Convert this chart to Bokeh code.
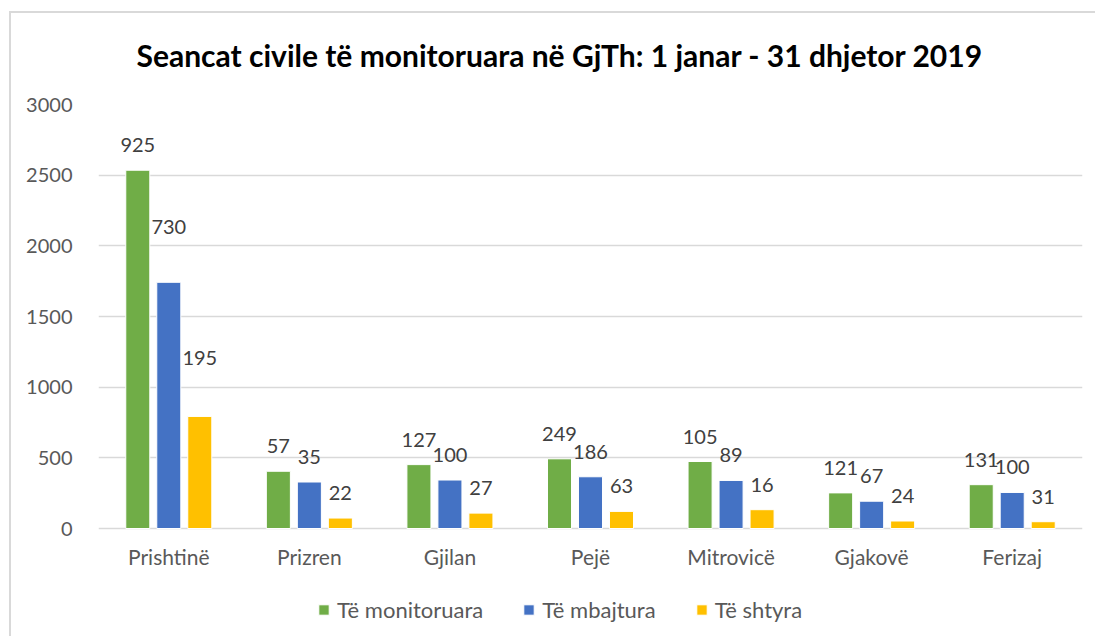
from bokeh.plotting import figure
from bokeh.models import ColumnDataSource, FactorRange, Legend, LegendItem, Title, Range1d
from bokeh.transform import dodge
from bokeh.core.properties import value
from bokeh.embed import file_html
from bokeh.resources import INLINE

# ---- data ----
cities = ["Prishtinë", "Prizren", "Gjilan", "Pejë", "Mitrovicë", "Gjakovë", "Ferizaj"]
series = ["Të monitoruara", "Të mbajtura", "Të shtyra"]
bar_monitoruara = [2535, 405, 452, 493, 474, 252, 310]
bar_mbajtura = [1742, 329, 343, 366, 340, 193, 255]
bar_shtyra = [793, 74, 109, 121, 133, 53, 48]
label_monitoruara = ["925", "57", "127", "249", "105", "121", "131"]
label_mbajtura = ["730", "35", "100", "186", "89", "67", "100"]
label_shtyra = ["195", "22", "27", "63", "16", "24", "31"]
y_ticks = [0, 500, 1000, 1500, 2000, 2500, 3000]
title_text = "Seancat civile të monitoruara në GjTh: 1 janar - 31 dhjetor 2019"

# ---- styles / layout ----
colors = ["#70AD47", "#4472C4", "#FFC000"]
FONT = "Lato"
TICK_COLOR = "#595959"
LABEL_COLOR = "#404040"
BORDER = "#d9d9d9"
# pixel offsets of the data labels above bar tops (manual nudges for Prishtinë)
label_offsets = [
    [-25] * 7,
    [-55] + [-25] * 6,
    [-58] + [-25] * 6,
]
PLOT_H_PX = 424          # pixels between 0 and 3000
EXTRA_BELOW_PX = 108     # frame space below the zero line (axis labels + legend)
AXIS_BELOW_PX = 72       # where the category axis sits, below the zero line
Y_MAX = 3000
px_to_y = Y_MAX / PLOT_H_PX
y_start = -EXTRA_BELOW_PX * px_to_y

src = ColumnDataSource(dict(
    city=cities,
    v0=bar_monitoruara, v1=bar_mbajtura, v2=bar_shtyra,
    l0=label_monitoruara, l1=label_mbajtura, l2=label_shtyra,
    o0=label_offsets[0], o1=label_offsets[1], o2=label_offsets[2],
))

p = figure(
    x_range=FactorRange(*cities), y_range=Range1d(y_start, Y_MAX),
    frame_width=984, frame_height=PLOT_H_PX + EXTRA_BELOW_PX,
    output_backend="svg", toolbar_location=None,
    min_border_left=98, min_border_right=13, min_border_top=104, min_border_bottom=0,
)
p.background_fill_color = "white"
p.border_fill_color = None
p.outline_line_color = None
p.styles = {
    "background": (
        f"linear-gradient({BORDER},{BORDER}) 9px 11px / 3000px 2px no-repeat, "
        f"linear-gradient({BORDER},{BORDER}) 9px 11px / 2px 3000px no-repeat, white"
    ),
}

step = 0.2205
bw = 0.171
renderers = []
for i, off in enumerate([-step, 0, step]):
    r = p.vbar(x=dodge("city", off, range=p.x_range), top=f"v{i}", width=bw,
               source=src, fill_color=colors[i], line_color="white", line_width=1)
    renderers.append(r)
    p.text(x=dodge("city", off, range=p.x_range), y=f"v{i}", text=f"l{i}",
           source=src, y_offset=f"o{i}", text_align="center", text_baseline="middle",
           text_font=value(FONT), text_font_size="20px", text_color=LABEL_COLOR)

# axes: category axis sits inside the frame, labels pulled up under the zero line
p.xaxis.fixed_location = -AXIS_BELOW_PX * px_to_y
p.xaxis.axis_line_color = None
p.xaxis.major_tick_line_color = None
p.xaxis.minor_tick_line_color = None
p.xaxis.major_label_text_font = FONT
p.xaxis.major_label_text_font_size = "21px"
p.xaxis.major_label_text_color = TICK_COLOR
p.xaxis.major_label_standoff = 9 - AXIS_BELOW_PX

p.yaxis.ticker = y_ticks
p.yaxis.axis_line_color = None
p.yaxis.major_tick_line_color = None
p.yaxis.minor_tick_line_color = None
p.yaxis.major_label_text_font = FONT
p.yaxis.major_label_text_font_size = "20px"
p.yaxis.major_label_text_color = TICK_COLOR
p.yaxis.major_label_standoff = 20

p.xgrid.grid_line_color = None
p.ygrid.grid_line_color = BORDER
p.ygrid.grid_line_width = 1.5

# title
t = Title(text=title_text, align="left", offset=38, standoff=63,
          text_font=FONT, text_font_size="30px", text_font_style="bold", text_color="black")
p.add_layout(t, "above")

# legend (inside the frame, below the zero line)
legend = Legend(
    items=[LegendItem(label=series[i], renderers=[renderers[i]]) for i in range(3)],
    orientation="horizontal", location=(219, 13),
    glyph_width=13, glyph_height=13, label_standoff=7, spacing=39,
    padding=0, margin=0, border_line_color=None, background_fill_alpha=0,
    label_text_font=FONT, label_text_font_size="22px", label_text_color=TICK_COLOR,
)
p.add_layout(legend)

open("out.html", "w").write(file_html(p, INLINE))
